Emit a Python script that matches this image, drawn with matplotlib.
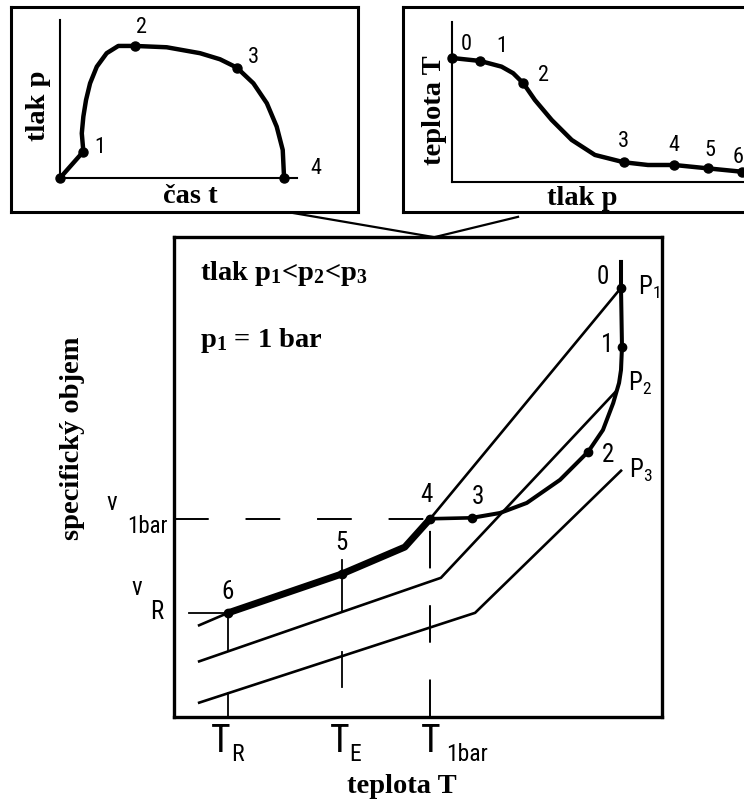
import numpy as np
import matplotlib.pyplot as plt
from matplotlib import font_manager

plt.rcParams['lines.scale_dashes'] = False
plt.rcParams['mathtext.default'] = 'regular'

# fonts: bold serif for captions, narrow sans for technical lettering
SERIF = 'Liberation Serif'
names = {f.name for f in font_manager.fontManager.ttflist}
LETTER, STRETCH = 'DejaVu Sans', 'condensed'
for cand in ['Liberation Sans Narrow', 'Roboto Condensed', 'Open Sans Condensed']:
    if cand in names:
        LETTER, STRETCH = cand, 'normal'
        break

# ---- data: cavity pressure over time (left inset) ----
cav_t = [0, 1.04, 0.97, 1.04, 1.16, 1.34, 1.64, 2.08, 2.60, 3.35, 4.76, 6.25, 7.14, 7.89,
         8.63, 9.23, 9.67, 9.94, 10.0]
cav_p = [0, 2.0, 3.38, 4.65, 5.91, 7.17, 8.43, 9.45, 10.0, 10.0, 9.9, 9.45, 8.99, 8.36,
         7.17, 5.66, 3.89, 2.12, 0]
cav_pt_t = [0, 1.04, 3.35, 7.89, 10.0]
cav_pt_p = [0, 2.0, 10.0, 8.36, 0]
cav_pt_lab = ['1', '2', '3', '4']

# ---- data: temperature over pressure (right inset) ----
tp_p = [0, 0.97, 1.71, 2.11, 2.46, 2.86, 3.44, 4.13, 4.93, 5.93, 6.76, 7.67, 8.82, 9.99]
tp_T = [10.0, 9.76, 9.30, 8.77, 7.96, 6.61, 5.0, 3.39, 2.18, 1.59, 1.37, 1.37, 1.10, 0.83]
tp_pt_p = [0, 0.97, 2.46, 5.93, 7.67, 8.82, 9.99]
tp_pt_T = [10.0, 9.76, 7.96, 1.59, 1.37, 1.10, 0.83]
tp_pt_lab = ['0', '1', '2', '3', '4', '5', '6']

# ---- data: specific volume over temperature (main diagram) ----
p1_T = [4.9, 11.1, 34.4, 47.3, 52.5, 91.6]
p1_v = [19.0, 21.7, 29.8, 35.4, 41.3, 89.4]
p2_T = [4.9, 54.7, 90.8]
p2_v = [11.5, 29.0, 68.1]
p3_T = [4.9, 61.7, 91.8]
p3_v = [2.9, 21.7, 51.5]
# process path 0 -> 1 -> 2 -> 3
path_T = [91.6, 91.6, 91.8, 91.6, 91.2, 90.0, 87.9, 84.9, 79.1, 72.3, 66.8, 61.1]
path_v = [94.8, 89.4, 77.1, 72.3, 69.6, 65.4, 59.8, 55.3, 49.4, 44.6, 42.5, 41.5]
# 3 -> 4 (isochoric) and 4 -> 5 -> 6 along the 1 bar isobar
seg34_T = [61.1, 52.5]
seg34_v = [41.5, 41.3]
heavy_T = [52.5, 47.3, 34.4, 11.1]
heavy_v = [41.3, 35.4, 29.8, 21.7]
pts_T = [91.6, 91.8, 84.9, 61.1, 52.5, 34.4, 11.1]
pts_v = [89.4, 77.1, 55.3, 41.5, 41.3, 29.8, 21.7]
v_1bar, T_1bar = 41.3, 52.5
v_R, T_R, T_E = 21.7, 11.1, 34.4

W, H = 744, 802
fig = plt.figure(figsize=(W / 100, H / 100), dpi=100)


def rect(x0, y0, x1, y1):
    return [x0 / W, 1 - y1 / H, (x1 - x0) / W, (y1 - y0) / H]


def frame(a, lw):
    a.set_xticks([])
    a.set_yticks([])
    for s in a.spines.values():
        s.set_linewidth(lw)


serif = dict(family=SERIF, weight='bold', fontsize=20.5)
letter = dict(family=LETTER, fontstretch=STRETCH)

# ---------------- left inset ----------------
ax1 = fig.add_axes(rect(11, 7, 358, 212))
ax1.set_xlim(-2.19, 13.30)
ax1.set_ylim(-2.58, 12.95)
frame(ax1, 2.2)
ax1.plot([0, 0], [0, 11.97], color='black', lw=1.5)
ax1.plot([0, 10.58], [0, 0], color='black', lw=1.5)
ax1.plot(cav_t, cav_p, color='black', lw=3.2, solid_joinstyle='round')
ax1.plot(cav_pt_t, cav_pt_p, 'o', color='black', ms=6.5)
for lab, (x, y) in zip(cav_pt_lab, [(1.79, 2.27), (3.64, 11.36), (8.62, 9.09), (11.42, 0.68)]):
    ax1.text(x, y, lab, ha='center', va='center', fontsize=16, **letter)
ax1.text(-0.98, 5.5, 'tlak p', rotation=90, ha='center', va='center', **serif)
ax1.text(5.8, -1.42, 'čas t', ha='center', va='center', **serif)

# ---------------- right inset ----------------
ax2 = fig.add_axes(rect(403, 7, 790, 212))
ax2.set_xlim(-1.69, 11.66)
ax2.set_ylim(-2.42, 14.11)
frame(ax2, 2.2)
ax2.plot([0, 0], [0, 12.9], color='black', lw=1.5)
ax2.plot([0, 12], [0, 0], color='black', lw=1.5)
ax2.plot(tp_p, tp_T, color='black', lw=3.2, solid_joinstyle='round')
ax2.plot(tp_pt_p, tp_pt_T, 'o', color='black', ms=6.5)
for lab, (x, y) in zip(tp_pt_lab[:-1], [(0.48, 11.05), (1.72, 10.89), (3.14, 8.55), (5.93, 3.23),
                                        (7.66, 2.98), (8.9, 2.5)]):
    ax2.text(x, y, lab, ha='center', va='center', fontsize=16, **letter)
ax2.text(10.05, 1.95, tp_pt_lab[-1], ha='right', va='center', fontsize=16, **letter)
ax2.text(-0.62, 5.81, 'teplota T', rotation=90, ha='center', va='center', **serif)
ax2.text(4.48, -1.35, 'tlak p', ha='center', va='center', **serif)

# ---------------- main diagram ----------------
ax = fig.add_axes(rect(174, 237, 662, 717))
ax.set_xlim(0, 100)
ax.set_ylim(0, 100)
frame(ax, 2.4)

k = dict(color='black', solid_capstyle='butt')
ax.plot(p1_T, p1_v, lw=1.9, **k)
ax.plot(p2_T, p2_v, lw=1.9, **k)
ax.plot(p3_T, p3_v, lw=1.9, **k)
ax.plot(path_T, path_v, lw=2.9, color='black', solid_joinstyle='round')
ax.plot(seg34_T, seg34_v, lw=2.6, **k)
ax.plot(heavy_T, heavy_v, lw=5, color='black', solid_joinstyle='round', solid_capstyle='round')
ax.plot(pts_T, pts_v, 'o', color='black', ms=6)

# reference lines
ax.plot([0, T_1bar], [v_1bar, v_1bar], color='black', lw=1.4, dashes=(25, 26.5))
ax.plot([T_1bar, T_1bar], [0, v_1bar], color='black', lw=1.4, dashes=(27, 26.5))
ax.plot([3.07, T_R], [v_R, v_R], color='black', lw=1.3)
ax.plot([T_R, T_R], [v_R, np.interp(T_R, p2_T, p2_v)], color='black', lw=1.3)
ax.plot([T_R, T_R], [np.interp(T_R, p3_T, p3_v), 0], color='black', lw=1.3)
ax.plot([T_E, T_E], [32.7, np.interp(T_E, p2_T, p2_v)], color='black', lw=1.3)
ax.plot([T_E, T_E], [13.5, 6.3], color='black', lw=1.3)

# connectors from the insets
ax.plot([24.4, 53.1], [105.0, 100.0], color='black', lw=1.6, clip_on=False)
ax.plot([70.5, 53.5], [104.2, 100.0], color='black', lw=1.6, clip_on=False)

# point labels
for lab, (x, y) in zip(['0', '1', '2', '3', '4', '5', '6'],
                       [(87.9, 91.7), (88.7, 77.5), (88.9, 54.6), (62.3, 45.8),
                        (51.8, 46.3), (34.4, 36.3), (10.9, 26.0)]):
    ax.text(x, y, lab, ha='center', va='center', fontsize=18, **letter)
for lab, (x, y) in zip(['P$_1$', 'P$_2$', 'P$_3$'], [(95.0, 89.6), (93.0, 69.5), (93.2, 51.4)]):
    ax.text(x, y, lab, ha='left', va='center', fontsize=18, **letter)

# axis value labels
ax.text(-12.7, 44.6, 'v', ha='center', va='center', fontsize=18, **letter)
ax.text(-5.5, 39.6, '1bar', ha='center', va='center', fontsize=16.5, **letter)
ax.text(-7.6, 26.9, 'v', ha='center', va='center', fontsize=18, **letter)
ax.text(-3.5, 21.9, 'R', ha='center', va='center', fontsize=18, **letter)
for lab, sub, x, xs in [('T', 'R', 9.6, 13.1), ('T', 'E', 34.0, 37.1), ('T', '1bar', 52.7, 60.0)]:
    ax.text(x, -5.1, lab, ha='center', va='center', fontsize=27, clip_on=False, **letter)
    ax.text(xs, -7.9, sub, ha='center', va='center', fontsize=17, clip_on=False, **letter)

ax.text(46.7, -14.4, 'teplota T', ha='center', va='center', **serif)
ax.text(-20.9, 58.1, 'specifický objem', rotation=90, ha='center', va='center', **serif)
ax.text(5.3, 91.0, 'tlak p$_1$<p$_2$<p$_3$', ha='left', va='baseline', **serif)
ax.text(5.3, 77.1, 'p$_1$ = 1 bar', ha='left', va='baseline', **serif)

fig.savefig('out.png', dpi=100)
